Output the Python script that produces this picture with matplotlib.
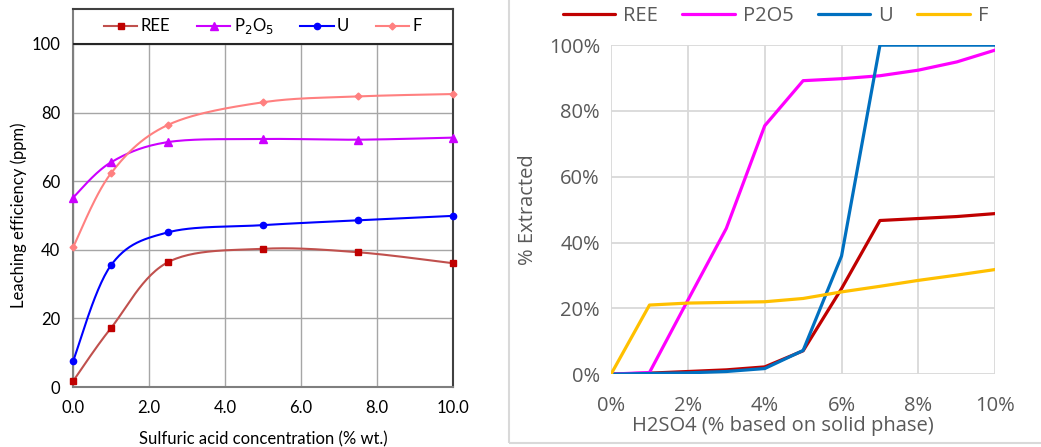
import numpy as np
import matplotlib.pyplot as plt
from matplotlib.patches import Rectangle
from matplotlib.ticker import FuncFormatter

# Left panel data (sulfuric acid % wt.)
conc = [0.0, 1.0, 2.5, 5.0, 7.5, 10.0]
ree_l = [1.7, 17.2, 36.4, 40.3, 39.3, 36.1]
p2o5_l = [55.2, 65.5, 71.4, 72.3, 72.1, 72.7]
u_l = [7.5, 35.5, 45.1, 47.2, 48.6, 49.9]
f_l = [40.7, 62.3, 76.4, 83.0, 84.7, 85.4]

# Right panel data (H2SO4 % on solid phase, fraction extracted)
h2so4 = [0, 1, 2, 3, 4, 5, 6, 7, 8, 9, 10]
ree_r = [0.0, 0.3, 0.8, 1.3, 2.2, 7.1, 26.0, 46.7, 47.3, 47.9, 48.8]
p2o5_r = [0.0, 0.5, 22.5, 44.3, 75.5, 89.2, 89.8, 90.7, 92.4, 94.9, 98.5]
u_r = [0.0, 0.2, 0.4, 0.8, 1.7, 7.2, 35.9, 100.0, 100.0, 100.0, 100.0]
f_r = [0.0, 21.0, 21.6, 21.8, 22.0, 23.0, 25.0, 26.7, 28.5, 30.1, 31.8]


def smooth(x, y, n=30):
    # Excel-like smoothed line (Catmull-Rom through the points)
    p = np.column_stack([x, y]).astype(float)
    p = np.vstack([p[0], p, p[-1]])
    t = np.linspace(0, 1, n)[:, None]
    out = []
    for i in range(1, len(p) - 2):
        p0, p1, p2, p3 = p[i - 1], p[i], p[i + 1], p[i + 2]
        c1 = p1 + (p2 - p0) / 6
        c2 = p2 - (p3 - p1) / 6
        seg = ((1 - t) ** 3) * p1 + 3 * ((1 - t) ** 2) * t * c1 + 3 * (1 - t) * t ** 2 * c2 + t ** 3 * p2
        out.append(seg)
    out = np.vstack(out)
    return out[:, 0], out[:, 1]


fig = plt.figure(figsize=(10.41, 4.47), dpi=100)

# ---------- left panel ----------
ax = fig.add_axes([0.0701, 0.134, 0.365, 0.846])
lfont = 'Lato'
lsize = 12
series = [
    ('REE', ree_l, '#c0504d', '#c00000', 's', 5),
    ('P$_2$O$_5$', p2o5_l, '#cc00ff', '#cc00ff', '^', 5.5),
    ('U', u_l, '#0000ff', '#0000ff', 'o', 4.5),
    ('F', f_l, '#ff8080', '#ff8080', 'D', 3.5),
]
for name, vals, lc, mc, mk, ms in series:
    sx, sy = smooth(conc, vals)
    ax.plot(sx, sy, color=lc, lw=1.5, zorder=3)
    ax.plot(conc, vals, ls='none', marker=mk, ms=ms, color=mc, zorder=4, clip_on=False)
    ax.plot([], [], color=lc, lw=1.5, marker=mk, ms=ms, mfc=mc, mec=mc, label=name)

ax.set_xlim(0, 10)
ax.set_ylim(0, 110.2)
ax.set_xticks([0, 2, 4, 6, 8, 10])
ax.set_yticks([0, 20, 40, 60, 80, 100])
ax.xaxis.set_major_formatter(FuncFormatter(lambda v, p: f'{v:.1f}'))
ax.grid(True, color='#a6a6a6', lw=1)
ax.set_axisbelow(True)
ax.axhspan(100, 110.2, facecolor='white', edgecolor='none', zorder=2)
ax.axhline(100, color='#262626', lw=1.5, zorder=5)
for s in ax.spines.values():
    s.set_color('#7f7f7f')
    s.set_linewidth(1.5)
ax.spines['top'].set_color('#404040')
ax.spines['right'].set_color('#404040')
ax.tick_params(length=0, pad=9, labelsize=lsize)
for lab in ax.get_xticklabels() + ax.get_yticklabels():
    lab.set_fontfamily(lfont)
ax.set_xlabel('Sulfuric acid concentration (% wt.)', fontsize=lsize, family=lfont, labelpad=11)
ax.set_ylabel('Leaching efficiency (ppm)', fontsize=lsize, family=lfont)
ax.yaxis.set_label_coords(-0.12, 0.455)
ax.legend(loc='center', bbox_to_anchor=(0.5, 0.954), ncol=4, frameon=False,
          prop={'family': lfont, 'size': lsize}, handlelength=2.0, columnspacing=1.6,
          handletextpad=0.2)

# ---------- right panel ----------
fig.patches.append(Rectangle((0.489, 0.009), 0.6, 1.2, transform=fig.transFigure,
                             facecolor='none', edgecolor='#d9d9d9', lw=1.5))
ax2 = fig.add_axes([0.587, 0.163, 0.369, 0.736])
rfont = 'Open Sans'
rsize = 14.5
rseries = [
    ('REE', ree_r, '#c00000'),
    ('P2O5', p2o5_r, '#ff00ff'),
    ('U', u_r, '#0070c0'),
    ('F', f_r, '#ffc000'),
]
x_frac = np.array(h2so4) / 100
for name, vals, c in rseries:
    ax2.plot(x_frac, np.array(vals) / 100, color=c, lw=2.3, label=name, solid_capstyle='round')
ax2.set_xlim(0, 0.10)
ax2.set_ylim(0, 1.0)
ax2.set_xticks(np.arange(0, 0.101, 0.02))
ax2.set_yticks(np.arange(0, 1.01, 0.2))
pct = FuncFormatter(lambda v, p: f'{v * 100:.0f}%')
ax2.xaxis.set_major_formatter(pct)
ax2.yaxis.set_major_formatter(pct)
ax2.grid(True, color='#d9d9d9', lw=1.3)
ax2.set_axisbelow(True)
for s in ax2.spines.values():
    s.set_visible(False)
ax2.tick_params(axis='y', length=0, labelsize=rsize, labelcolor='#595959', pad=8)
ax2.tick_params(axis='x', length=0, labelsize=rsize, labelcolor='#595959', pad=16)
for lab in ax2.get_xticklabels() + ax2.get_yticklabels():
    lab.set_fontfamily(rfont)
ax2.set_xlabel('H2SO4 (% based on solid phase)', fontsize=rsize, color='#595959', family=rfont)
ax2.xaxis.set_label_coords(0.447, -0.128)
ax2.set_ylabel('% Extracted', fontsize=rsize, color='#595959', family=rfont)
ax2.yaxis.set_label_coords(-0.19, 0.5)
ax2.legend(loc='center', bbox_to_anchor=(0.745, 0.965), bbox_transform=fig.transFigure,
           ncol=4, frameon=False, prop={'family': rfont, 'size': rsize}, labelcolor='#595959',
           handlelength=2.6, columnspacing=1.2, handletextpad=0.4)

fig.savefig('out.png', dpi=100)
